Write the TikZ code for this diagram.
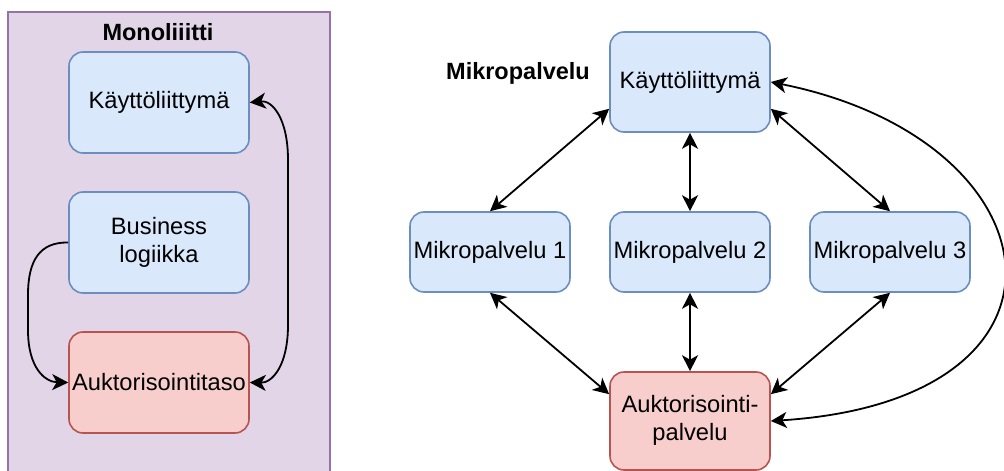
\documentclass[tikz,border=0pt]{standalone}
\usepackage{fontspec}
\setmainfont{Liberation Sans}
\usetikzlibrary{arrows.meta,calc}
\definecolor{blueFill}{HTML}{DAE8FC}
\definecolor{blueLine}{HTML}{6C8EBF}
\definecolor{redFill}{HTML}{F8CECC}
\definecolor{redLine}{HTML}{B85450}
\definecolor{purpleFill}{HTML}{E1D5E7}
\definecolor{purpleLine}{HTML}{9673A6}
\begin{document}
\begin{tikzpicture}[x=1pt,y=-1pt,
  every node/.style={font=\fontsize{23.7}{28}\selectfont, inner sep=0pt, align=center},
  card/.style={rounded corners=14pt, line width=1.6pt},
  bluecard/.style={card, draw=blueLine, fill=blueFill},
  redcard/.style={card, draw=redLine, fill=redFill},
  heading/.style={font=\fontsize{23.5}{28}\selectfont\bfseries},
  link/.style={line width=1.8pt, {Stealth[length=16pt,width=16pt,inset=4.5pt]}-{Stealth[length=16pt,width=16pt,inset=4.5pt]}},
  onelink/.style={line width=1.8pt, -{Stealth[length=16pt,width=16pt,inset=4.5pt]}}
]
\useasboundingbox (0,0) rectangle (1004,471);

% monolith container
\node[draw=purpleLine, fill=purpleFill, line width=1.8pt, minimum width=322pt, minimum height=480pt] (mono) at (169,252) {};
\node[heading] (monotitle) at (158,32) {Monoliiitti};

\node[bluecard, minimum width=180pt, minimum height=101pt] (ui1) at (159,102.5) {Käyttöliittymä};
\node[bluecard, minimum width=180pt, minimum height=101pt] (logic) at (159,242.5) {\strut Business\\\strut logiikka};
\node[redcard, minimum width=180pt, minimum height=101pt] (auth1) at (159,382.5) {Auktorisointitaso};

\draw[link] (ui1.east) .. controls (272,100) and (288,118) .. (288,160)
  -- (288,325) .. controls (288,366) and (272,383) .. (auth1.east);
\draw[onelink] (logic.west) .. controls (40,242) and (28,260) .. (28,295)
  -- (28,330) .. controls (28,368) and (45,382) .. (auth1.west);

% microservice architecture
\node[heading] (microtitle) at (518,73) {Mikropalvelu};
\node[bluecard, minimum width=160pt, minimum height=100pt] (ui2) at (690,82) {Käyttöliittymä};
\node[bluecard, minimum width=160pt, minimum height=80pt] (ms1) at (490,252) {Mikropalvelu 1};
\node[bluecard, minimum width=160pt, minimum height=80pt] (ms2) at (690,252) {Mikropalvelu 2};
\node[bluecard, minimum width=160pt, minimum height=80pt] (ms3) at (890,252) {Mikropalvelu 3};
\node[redcard, minimum width=160pt, minimum height=98pt] (auth2) at (690,421) {\strut Auktorisointi-\\\strut palvelu};

\draw[link] ([yshift=24pt]ui2.south west) -- (ms1.north);
\draw[link] (ui2.south) -- (ms2.north);
\draw[link] ([yshift=24pt]ui2.south east) -- (ms3.north);
\draw[link] (ms1.south) -- ([yshift=-23pt]auth2.north west);
\draw[link] (ms2.south) -- (auth2.north);
\draw[link] (ms3.south) -- ([yshift=-23pt]auth2.north east);
\draw[link] (ui2.east) .. controls (1060,140) and (1100,400) .. (auth2.east);
\end{tikzpicture}
\end{document}
